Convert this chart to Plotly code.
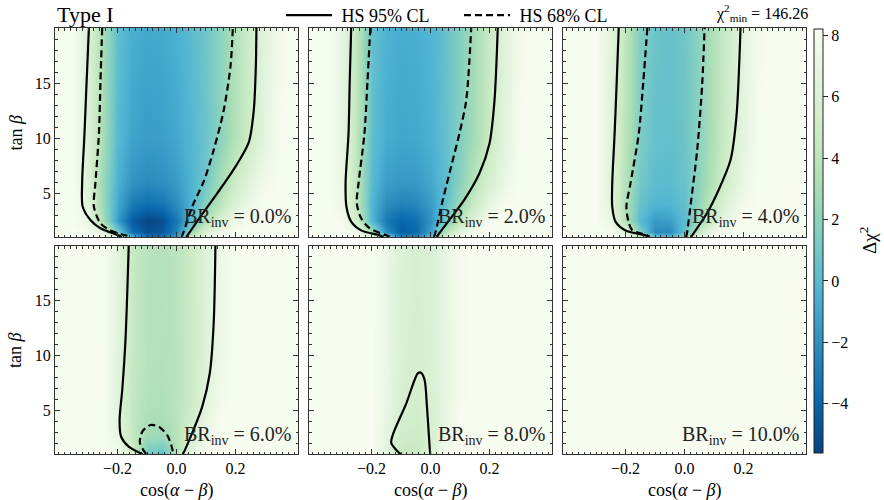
import plotly.graph_objects as go

# ---------------- data ----------------
COSAB = [-0.4, -0.35, -0.3, -0.25, -0.2, -0.15, -0.1, -0.05, 0.0, 0.05,
         0.1, 0.15, 0.2, 0.25, 0.3, 0.35, 0.4]
TANB = [1, 1.5, 2.5, 4, 6, 10, 20]
BR_LABELS = ["0.0%", "2.0%", "4.0%", "6.0%", "8.0%", "10.0%"]
CHI2_MIN = "146.26"
LEGEND_NAMES = ["HS 95% CL", "HS 68% CL"]

# Delta chi^2 maps (rows = TANB, columns = COSAB)
DCHI2_BR0 = [
    [8.2, 8.2, 8.2, 8.2, 6.0, 0.0, -3.5, -3.5, -1.0, 5.0, 7.5, 8.2, 8.2, 8.2, 8.2, 8.2, 8.2],
    [8.2, 8.2, 8.2, 6.5, 1.0, -3.5, -4.8, -4.5, -2.5, 2.5, 6.0, 7.5, 8.2, 8.2, 8.2, 8.2, 8.2],
    [8.2, 8.2, 7.0, 3.0, -1.5, -4.3, -5.4, -5.0, -3.0, 0.0, 3.5, 6.0, 7.5, 8.2, 8.2, 8.2, 8.2],
    [8.2, 8.2, 6.5, 2.5, -1.0, -2.9, -3.5, -3.2, -2.1, -0.4, 1.8, 4.0, 6.0, 7.5, 8.2, 8.2, 8.2],
    [8.2, 8.2, 6.0, 2.5, -0.5, -1.8, -2.2, -2.0, -1.4, -0.4, 1.0, 3.0, 4.8, 6.5, 7.8, 8.2, 8.2],
    [8.2, 8.2, 6.0, 3.0, -0.1, -1.1, -1.4, -1.3, -0.9, -0.2, 0.7, 2.0, 3.5, 5.0, 6.8, 8.0, 8.2],
    [8.2, 8.2, 6.0, 3.0, 0.3, -0.6, -0.9, -0.8, -0.5, 0.1, 0.9, 2.0, 3.5, 5.0, 6.5, 7.8, 8.2],
]
DCHI2_BR2 = [
    [8.2, 8.2, 8.2, 8.2, 7.0, 2.0, -2.5, -2.5, 0.5, 5.5, 8.0, 8.2, 8.2, 8.2, 8.2, 8.2, 8.2],
    [8.2, 8.2, 8.2, 7.5, 3.0, -2.0, -4.3, -3.8, -1.2, 3.5, 6.5, 8.0, 8.2, 8.2, 8.2, 8.2, 8.2],
    [8.2, 8.2, 8.0, 5.0, -0.3, -3.0, -4.0, -3.5, -1.8, 1.0, 4.0, 6.5, 8.0, 8.2, 8.2, 8.2, 8.2],
    [8.2, 8.2, 7.5, 4.0, -0.3, -2.1, -2.6, -2.4, -1.4, 0.3, 2.5, 4.8, 6.8, 8.0, 8.2, 8.2, 8.2],
    [8.2, 8.2, 7.2, 4.0, 0.0, -1.3, -1.6, -1.5, -0.9, 0.2, 1.8, 3.8, 5.5, 7.2, 8.2, 8.2, 8.2],
    [8.2, 8.2, 7.0, 4.0, 0.3, -0.7, -1.0, -0.9, -0.5, 0.4, 1.6, 3.0, 4.6, 6.5, 8.0, 8.2, 8.2],
    [8.2, 8.2, 7.0, 4.0, 0.5, -0.4, -0.7, -0.6, -0.3, 0.5, 1.7, 3.0, 4.6, 6.3, 7.8, 8.2, 8.2],
]
DCHI2_BR4 = [
    [8.2, 8.2, 8.2, 8.2, 8.0, 5.0, 1.0, 0.0, 3.0, 7.0, 8.2, 8.2, 8.2, 8.2, 8.2, 8.2, 8.2],
    [8.2, 8.2, 8.2, 8.2, 6.0, 1.5, -2.2, -2.2, 0.5, 4.5, 7.5, 8.2, 8.2, 8.2, 8.2, 8.2, 8.2],
    [8.2, 8.2, 8.2, 7.0, 3.5, 0.0, -1.5, -1.3, 0.2, 2.8, 5.5, 7.5, 8.2, 8.2, 8.2, 8.2, 8.2],
    [8.2, 8.2, 8.2, 6.5, 3.2, 0.6, -0.3, -0.3, 0.5, 2.2, 4.5, 6.5, 7.8, 8.2, 8.2, 8.2, 8.2],
    [8.2, 8.2, 8.2, 6.3, 3.5, 1.0, 0.2, 0.1, 0.7, 2.0, 3.8, 5.6, 7.2, 8.2, 8.2, 8.2, 8.2],
    [8.2, 8.2, 8.2, 6.3, 3.8, 1.4, 0.5, 0.4, 0.8, 1.9, 3.5, 5.2, 6.8, 8.0, 8.2, 8.2, 8.2],
    [8.2, 8.2, 8.2, 6.5, 4.0, 1.6, 0.7, 0.5, 0.9, 2.0, 3.5, 5.0, 6.6, 7.8, 8.2, 8.2, 8.2],
]
DCHI2_BR6 = [
    [8.2, 8.2, 8.2, 8.2, 8.0, 6.0, 1.5, 0.2, 4.0, 7.5, 8.2, 8.2, 8.2, 8.2, 8.2, 8.2, 8.2],
    [8.2, 8.2, 8.2, 8.2, 7.5, 5.0, 1.5, 1.0, 3.5, 6.5, 8.0, 8.2, 8.2, 8.2, 8.2, 8.2, 8.2],
    [8.2, 8.2, 8.2, 8.2, 7.0, 4.5, 2.6, 2.5, 3.8, 5.8, 7.5, 8.2, 8.2, 8.2, 8.2, 8.2, 8.2],
    [8.2, 8.2, 8.2, 8.2, 6.8, 4.3, 3.2, 3.1, 3.8, 5.2, 7.0, 8.2, 8.2, 8.2, 8.2, 8.2, 8.2],
    [8.2, 8.2, 8.2, 8.2, 6.5, 4.3, 3.5, 3.4, 3.8, 4.8, 6.5, 7.8, 8.2, 8.2, 8.2, 8.2, 8.2],
    [8.2, 8.2, 8.2, 8.2, 6.5, 4.5, 3.7, 3.5, 3.8, 4.7, 6.2, 7.5, 8.2, 8.2, 8.2, 8.2, 8.2],
    [8.2, 8.2, 8.2, 8.2, 6.6, 4.6, 3.8, 3.6, 3.9, 4.8, 6.2, 7.5, 8.2, 8.2, 8.2, 8.2, 8.2],
]
DCHI2_BR8 = [
    [8.2, 8.2, 8.2, 8.2, 8.2, 7.0, 4.8, 4.5, 6.5, 8.0, 8.2, 8.2, 8.2, 8.2, 8.2, 8.2, 8.2],
    [8.2, 8.2, 8.2, 8.2, 8.2, 6.8, 4.6, 4.5, 6.2, 7.8, 8.2, 8.2, 8.2, 8.2, 8.2, 8.2, 8.2],
    [8.2, 8.2, 8.2, 8.2, 8.2, 6.8, 5.0, 4.8, 5.8, 7.3, 8.2, 8.2, 8.2, 8.2, 8.2, 8.2, 8.2],
    [8.2, 8.2, 8.2, 8.2, 8.2, 7.0, 5.4, 5.1, 5.7, 7.0, 8.2, 8.2, 8.2, 8.2, 8.2, 8.2, 8.2],
    [8.2, 8.2, 8.2, 8.2, 8.2, 7.2, 5.7, 5.4, 5.8, 6.9, 8.0, 8.2, 8.2, 8.2, 8.2, 8.2, 8.2],
    [8.2, 8.2, 8.2, 8.2, 8.2, 7.3, 5.9, 5.6, 5.9, 6.9, 8.0, 8.2, 8.2, 8.2, 8.2, 8.2, 8.2],
    [8.2, 8.2, 8.2, 8.2, 8.2, 7.4, 6.0, 5.7, 6.0, 7.0, 8.0, 8.2, 8.2, 8.2, 8.2, 8.2, 8.2],
]
COSAB_BR10 = [-0.4, 0.4]
TANB_BR10 = [1, 20]
DCHI2_BR10 = [[8.2, 8.2], [8.2, 8.2]]

# HS contour lines (cos(a-b), tan b); None separates branches
HS95_BR0_X = [-0.297, -0.305, -0.312, -0.32, -0.318, -0.292, -0.258, -0.2, -0.185, None,
              0.033, 0.036, 0.081, 0.138, 0.2, 0.245, 0.262, 0.269, 0.271]
HS95_BR0_Y = [20, 15, 10.4, 5.9, 3.75, 2.55, 1.8, 1.18, 1.0, None,
              1.0, 1.1, 2.85, 4.97, 7.4, 9.6, 12.5, 16.5, 20]
HS68_BR0_X = [-0.252, -0.258, -0.263, -0.275, -0.28, -0.258, -0.224, -0.167, -0.155, None,
              0.016, 0.019, 0.053, 0.093, 0.126, 0.16, 0.183, 0.191]
HS68_BR0_Y = [20, 15, 10.4, 5.9, 3.75, 2.25, 1.6, 1.1, 1.0, None,
              1.0, 1.1, 3.75, 6.1, 8.9, 12.5, 16.5, 20]

HS95_BR2_X = [-0.269, -0.274, -0.278, -0.288, -0.285, -0.269, -0.235, -0.173, -0.16, None,
              0.022, 0.025, 0.064, 0.115, 0.166, 0.2, 0.217, 0.228]
HS95_BR2_Y = [20, 15, 10.4, 5.9, 3.75, 2.4, 1.6, 1.15, 1.0, None,
              1.0, 1.15, 2.55, 4.4, 6.8, 9.5, 13.4, 20]
HS68_BR2_X = [-0.204, -0.214, -0.224, -0.244, -0.25, -0.235, -0.207, -0.15, -0.138, None,
              0.011, 0.014, 0.042, 0.07, 0.098, 0.121, 0.138]
HS68_BR2_Y = [20, 15, 10.4, 5.9, 4.05, 2.7, 1.8, 1.15, 1.0, None,
              1.0, 1.15, 4.4, 7.4, 10.4, 13.4, 20]

HS95_BR4_X = [-0.223, -0.23, -0.237, -0.245, -0.245, -0.234, -0.2, -0.132, -0.12, None,
              0.022, 0.026, 0.077, 0.116, 0.156, 0.176, 0.19]
HS95_BR4_Y = [20, 15, 10.4, 5.9, 3.75, 2.4, 1.6, 1.15, 1.0, None,
              1.0, 1.15, 3.2, 5.3, 8.0, 11.9, 20]
HS68_BR4_X = [-0.126, -0.14, -0.155, -0.183, -0.197, -0.19, -0.177, -0.125, -0.118, None,
              0.005, 0.007, 0.023, 0.043, 0.06, 0.068]
HS68_BR4_Y = [20, 15, 10.4, 5.9, 3.75, 2.4, 1.6, 1.15, 1.0, None,
              1.0, 1.15, 4.4, 8.9, 14.9, 20]

HS95_BR6_X = [-0.162, -0.173, -0.184, -0.193, -0.188, -0.162, -0.122, -0.115, None,
              0.02, 0.023, 0.053, 0.087, 0.113, 0.126, 0.132]
HS95_BR6_Y = [20, 11.4, 6.85, 4.1, 2.6, 1.67, 1.07, 1.0, None,
              1.0, 1.07, 2.9, 5.3, 8.4, 12.9, 20]
HS68_BR6_X = [-0.102, -0.105, -0.124, -0.116, -0.088, -0.06, -0.032, -0.018, -0.011, -0.01]
HS68_BR6_Y = [1.0, 1.07, 2.0, 3.04, 3.65, 3.5, 2.74, 1.83, 1.07, 1.0]

HS95_BR8_X = [-0.1, -0.105, -0.133, -0.128, -0.082, -0.043, -0.032, -0.02, -0.012, -0.006, -0.001, 0.0]
HS95_BR8_Y = [1.0, 1.07, 2.0, 2.74, 5.63, 8.37, 8.43, 7.76, 5.32, 2.9, 1.07, 1.0]

HEATMAPS = [(COSAB, TANB, DCHI2_BR0), (COSAB, TANB, DCHI2_BR2), (COSAB, TANB, DCHI2_BR4),
            (COSAB, TANB, DCHI2_BR6), (COSAB, TANB, DCHI2_BR8), (COSAB_BR10, TANB_BR10, DCHI2_BR10)]
LINES95 = [(HS95_BR0_X, HS95_BR0_Y), (HS95_BR2_X, HS95_BR2_Y), (HS95_BR4_X, HS95_BR4_Y),
           (HS95_BR6_X, HS95_BR6_Y), (HS95_BR8_X, HS95_BR8_Y), None]
LINES68 = [(HS68_BR0_X, HS68_BR0_Y), (HS68_BR2_X, HS68_BR2_Y), (HS68_BR4_X, HS68_BR4_Y),
           (HS68_BR6_X, HS68_BR6_Y), None, None]

# ---------------- layout helpers ----------------
W, H = 884, 500
FONT = "Liberation Serif"
COLS = [(55, 298), (309, 552), (563, 806)]
ROWS = [(28, 237), (246, 454)]
NBSP = "\u00a0"


def fx(p):
    return p / W


def fy(p):
    return 1 - p / H


fig = go.Figure()
layout = {}
annotations = []
legend_done = {"95": False, "68": False}

for i in range(6):
    r, c = divmod(i, 3)
    n = i + 1
    xa = "x" if n == 1 else f"x{n}"
    ya = "y" if n == 1 else f"y{n}"
    xs, ys, zs = HEATMAPS[i]
    fig.add_trace(go.Heatmap(x=xs, y=ys, z=zs, coloraxis="coloraxis", zsmooth="best",
                             xaxis=xa, yaxis=ya, hoverinfo="skip"))
    if LINES95[i] is not None:
        lx, ly = LINES95[i]
        fig.add_trace(go.Scatter(x=lx, y=ly, mode="lines", xaxis=xa, yaxis=ya,
                                 line=dict(color="black", width=2.2, shape="spline", smoothing=0.8),
                                 name=NBSP + LEGEND_NAMES[0], legendgroup="95",
                                 showlegend=not legend_done["95"], connectgaps=False))
        legend_done["95"] = True
    if LINES68[i] is not None:
        lx, ly = LINES68[i]
        fig.add_trace(go.Scatter(x=lx, y=ly, mode="lines", xaxis=xa, yaxis=ya,
                                 line=dict(color="black", width=2.2, dash="7px,4px",
                                           shape="spline", smoothing=0.8),
                                 name=NBSP + LEGEND_NAMES[1], legendgroup="68",
                                 showlegend=not legend_done["68"], connectgaps=False))
        legend_done["68"] = True

    x0, x1 = COLS[c]
    y0, y1 = ROWS[r]
    axcommon = dict(showline=True, linecolor="#333", linewidth=1, mirror="allticks",
                    ticks="inside", ticklen=5, tickwidth=1, tickcolor="#333",
                    showgrid=False, zeroline=False, automargin=False,
                    tickfont=dict(family=FONT, size=16, color="black"))
    layout["xaxis" if n == 1 else f"xaxis{n}"] = dict(
        axcommon, domain=[fx(x0), fx(x1)], range=[-0.412, 0.412],
        anchor=ya, tickmode="array", tickvals=[-0.2, 0.0, 0.2], tickformat=".1f",
        showticklabels=(r == 1),
        minor=dict(tickmode="linear", tick0=0, dtick=0.02, ticks="inside", ticklen=2.5,
                   tickcolor="#333", showgrid=False))
    layout["yaxis" if n == 1 else f"yaxis{n}"] = dict(
        axcommon, domain=[fy(y1), fy(y0)], range=[1, 20], anchor=xa,
        tickmode="array", tickvals=[5, 10, 15], showticklabels=(c == 0),
        minor=dict(tickmode="linear", tick0=0, dtick=1, ticks="inside", ticklen=2.5,
                   tickcolor="#333", showgrid=False))
    annotations.append(dict(
        text=f"BR<sub>inv</sub> = {BR_LABELS[i]}", xref="paper", yref="paper",
        x=fx(x1 - 4), y=fy(y1 - 19), xanchor="right", yanchor="middle", showarrow=False,
        font=dict(family=FONT, size=20, color="#222")))

# axis titles
for r in range(2):
    y0, y1 = ROWS[r]
    annotations.append(dict(text="tan <i>β</i>", xref="paper", yref="paper", x=fx(15),
                            y=fy((y0 + y1) / 2), textangle=-90, showarrow=False,
                            xanchor="center", yanchor="middle",
                            font=dict(family=FONT, size=18, color="black")))
for c in range(3):
    x0, x1 = COLS[c]
    annotations.append(dict(text="cos(<i>α</i> − <i>β</i>)", xref="paper", yref="paper",
                            x=fx((x0 + x1) / 2), y=fy(490), showarrow=False,
                            xanchor="center", yanchor="middle",
                            font=dict(family=FONT, size=18, color="black")))

annotations.append(dict(text="Type I", xref="paper", yref="paper", x=fx(55), y=fy(14),
                        xanchor="left", yanchor="middle", showarrow=False,
                        font=dict(family=FONT, size=22, color="black")))
annotations.append(dict(text=f"χ<sup>2</sup><sub>min</sub> = {CHI2_MIN}", xref="paper",
                        yref="paper", x=fx(810), y=fy(13), xanchor="right", yanchor="middle",
                        showarrow=False, font=dict(family=FONT, size=16, color="black")))
# colorbar title
annotations.append(dict(text="Δχ<sup>2</sup>", xref="paper", yref="paper", x=fx(868),
                        y=fy(241), textangle=-90, showarrow=False, xanchor="center",
                        yanchor="middle", font=dict(family=FONT, size=19, color="black")))

layout.update(dict(
    width=W, height=H, margin=dict(l=0, r=0, t=0, b=0, autoexpand=False),
    paper_bgcolor="white", plot_bgcolor="white",
    font=dict(family=FONT, color="black"),
    annotations=annotations,
    showlegend=True,
    legend=dict(orientation="h", x=fx(281), y=fy(-3), xanchor="left", yanchor="top",
                font=dict(family=FONT, size=18, color="black"), bgcolor="rgba(0,0,0,0)",
                entrywidth=117, entrywidthmode="pixels", itemwidth=46),
    coloraxis=dict(
        colorscale="GnBu", reversescale=True, cmin=-5.6, cmax=8.2,
        colorbar=dict(x=fx(804), xanchor="left", y=fy(241), yanchor="middle",
                      len=444 / H, lenmode="fraction", thickness=9,
                      outlinewidth=1, outlinecolor="#222",
                      ticks="outside", ticklen=5, tickcolor="#222",
                      tickvals=[-4, -2, 0, 2, 4, 6, 8],
                      tickfont=dict(family=FONT, size=16, color="black"))),
))
fig.update_layout(**layout)
fig.write_html("out.html", config={"displayModeBar": False},
               post_script="document.body.style.margin='0';document.body.style.overflow='hidden';")
